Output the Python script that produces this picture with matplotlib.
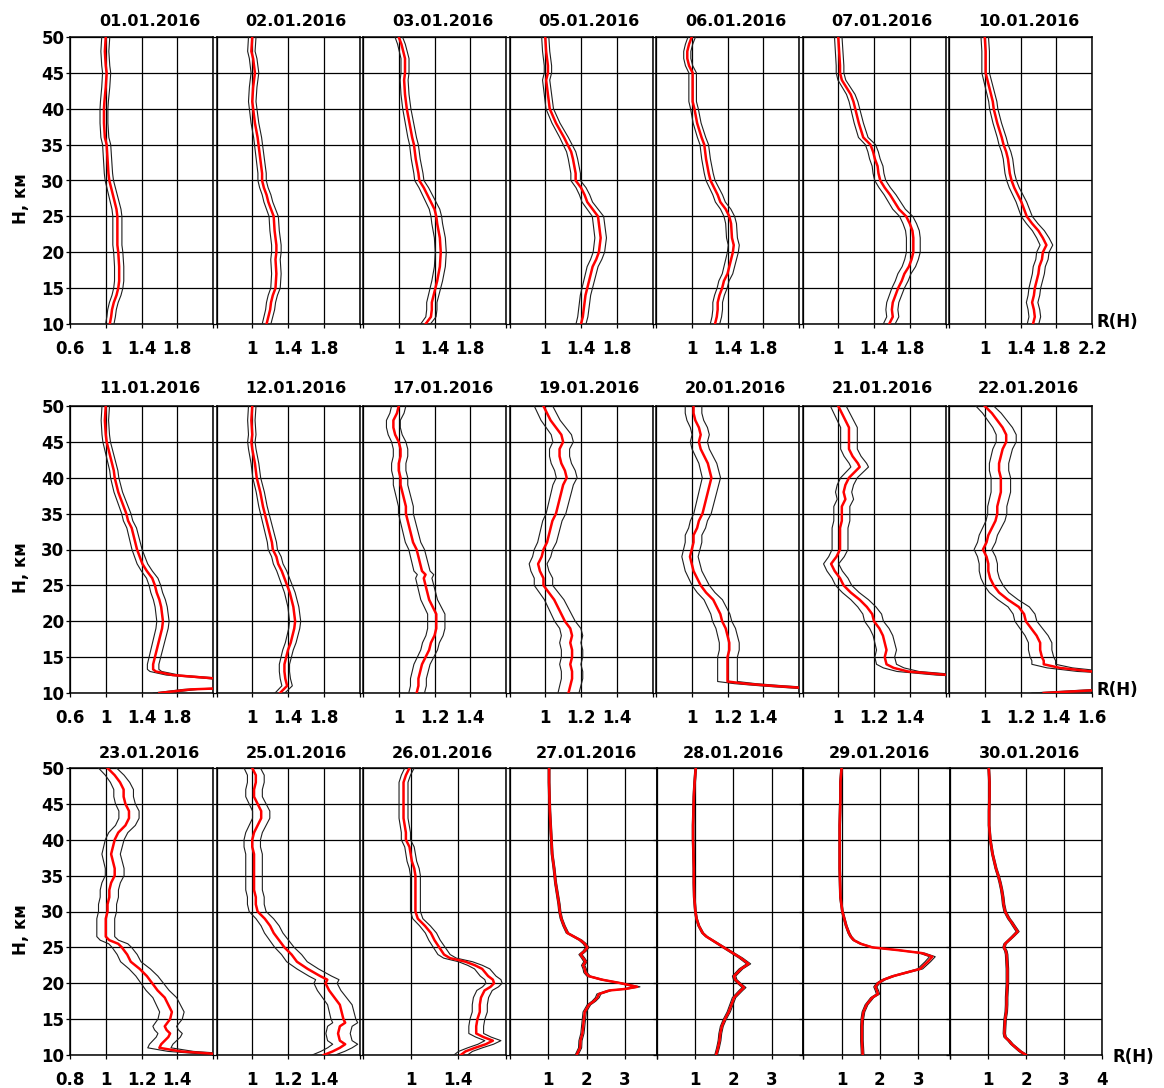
import matplotlib
matplotlib.use("Agg")
import matplotlib.pyplot as plt
from matplotlib.ticker import FixedLocator
import numpy as np

plt.rcParams['font.family'] = ['DejaVu Sans']

# ---------------- data ----------------
DATES = ["01.01.2016", "02.01.2016", "03.01.2016", "05.01.2016", "06.01.2016", "07.01.2016", "10.01.2016",
         "11.01.2016", "12.01.2016", "17.01.2016", "19.01.2016", "20.01.2016", "21.01.2016", "22.01.2016",
         "23.01.2016", "25.01.2016", "26.01.2016", "27.01.2016", "28.01.2016", "29.01.2016", "30.01.2016"]

H_0101 = [50, 48, 46, 45, 43, 41, 40, 38, 36, 35, 33, 31, 30, 29, 28, 27, 26, 25, 23, 21, 20, 18, 16, 15, 14, 13, 12, 11, 10]
R_0101 = [1.00, 0.99, 1.00, 1.01, 1.00, 0.985, 0.98, 0.98, 0.99, 1.01, 1.02, 1.03, 1.04, 1.06, 1.08, 1.10, 1.12, 1.13, 1.13, 1.13, 1.14, 1.15, 1.15, 1.14, 1.12, 1.09, 1.07, 1.06, 1.045]

H_0201 = [50, 48, 47, 45, 43, 41, 40, 38, 36, 35, 33, 31, 30, 29, 28, 27, 26, 25, 23, 21, 20, 19, 17, 15, 14, 13, 12, 11, 10]
R_0201 = [1.00, 0.99, 1.01, 1.03, 1.01, 1.00, 1.01, 1.03, 1.06, 1.07, 1.09, 1.11, 1.11, 1.13, 1.16, 1.18, 1.21, 1.24, 1.25, 1.27, 1.27, 1.26, 1.27, 1.26, 1.23, 1.21, 1.20, 1.18, 1.16]

H_0301 = [50, 49, 47, 45, 44, 42, 40, 38, 36, 35, 33, 31, 30, 29, 28, 27, 26, 25, 24, 22, 20, 18, 16, 15, 14, 13, 12, 11, 10]
R_0301 = [1.00, 1.03, 1.07, 1.07, 1.06, 1.07, 1.09, 1.12, 1.15, 1.17, 1.19, 1.22, 1.23, 1.28, 1.32, 1.36, 1.40, 1.42, 1.43, 1.46, 1.47, 1.46, 1.43, 1.41, 1.39, 1.37, 1.37, 1.36, 1.30]

H_0501 = [50, 48, 46, 45, 44, 42, 40, 38, 36, 35, 34, 33, 31, 30, 29, 28, 27, 26, 25, 24, 23, 22, 21, 20, 19, 18, 16, 15, 14, 12, 11, 10]
R_0501 = [1.00, 1.01, 1.03, 1.03, 1.01, 1.03, 1.05, 1.12, 1.21, 1.25, 1.29, 1.31, 1.34, 1.34, 1.40, 1.44, 1.47, 1.53, 1.59, 1.60, 1.61, 1.62, 1.61, 1.60, 1.57, 1.53, 1.49, 1.47, 1.45, 1.43, 1.42, 1.40]

H_0601 = [50, 49, 48, 47, 46, 45, 43, 41, 40, 38, 36, 35, 33, 31, 30, 29, 28, 27, 26, 25, 24, 22, 21, 20, 19, 18, 17, 16, 15, 14, 13, 12, 11, 10]
R_0601 = [1.00, 0.97, 0.95, 0.95, 0.97, 1.01, 1.01, 1.01, 1.03, 1.06, 1.11, 1.14, 1.16, 1.19, 1.21, 1.25, 1.29, 1.32, 1.38, 1.42, 1.44, 1.45, 1.47, 1.46, 1.44, 1.42, 1.40, 1.36, 1.34, 1.31, 1.29, 1.29, 1.28, 1.26]

H_0701 = [50, 48, 46, 45, 44, 43, 42, 41, 40, 38, 36, 35, 34, 33, 32, 31, 30, 29, 28, 27, 26, 25, 24, 23, 22, 21, 20, 19, 18, 17, 16, 15, 14, 13, 12, 11, 10]
R_0701 = [1.00, 1.01, 1.02, 1.02, 1.04, 1.09, 1.14, 1.17, 1.19, 1.23, 1.28, 1.36, 1.39, 1.41, 1.44, 1.45, 1.47, 1.52, 1.58, 1.63, 1.68, 1.76, 1.80, 1.83, 1.84, 1.84, 1.84, 1.82, 1.79, 1.74, 1.71, 1.67, 1.64, 1.61, 1.60, 1.61, 1.57]

H_1001 = [50, 48, 46, 45, 44, 43, 42, 41, 40, 38, 36, 35, 34, 33, 32, 31, 30, 29, 28, 27, 26, 25, 24, 23, 22, 21, 20, 19, 18, 17, 16, 15, 14, 13, 12, 11, 10]
R_1001 = [1.00, 1.01, 1.01, 1.01, 1.03, 1.05, 1.07, 1.09, 1.10, 1.14, 1.19, 1.21, 1.24, 1.26, 1.27, 1.28, 1.30, 1.33, 1.37, 1.41, 1.44, 1.47, 1.53, 1.60, 1.65, 1.69, 1.65, 1.64, 1.61, 1.60, 1.58, 1.56, 1.55, 1.53, 1.55, 1.56, 1.54]

H_1101 = [50, 48, 46, 45, 44, 42, 41, 40, 38, 36, 35, 34, 33, 32, 31, 30, 29, 28, 27, 26, 25, 24, 23, 22, 21, 20, 19, 18, 17, 16, 15, 14, 13.3, 13, 12.5, 12, 11, 10.5, 10]
R_1101 = [1.00, 0.99, 1.00, 1.01, 1.03, 1.07, 1.09, 1.10, 1.14, 1.20, 1.23, 1.25, 1.29, 1.31, 1.33, 1.35, 1.38, 1.41, 1.46, 1.52, 1.55, 1.57, 1.60, 1.62, 1.63, 1.64, 1.63, 1.61, 1.59, 1.57, 1.55, 1.53, 1.53, 1.56, 1.75, 2.25, 3.0, 1.95, 1.6]

H_1201 = [50, 48, 46, 45, 44, 42, 40, 38, 36, 35, 34, 33, 32, 31, 30, 29, 28, 27, 26, 25, 24, 23, 22, 21, 20, 19, 18, 17, 16, 15, 14, 13, 12, 11, 10.5, 10]
R_1201 = [1.00, 0.99, 1.00, 0.99, 1.00, 1.03, 1.05, 1.09, 1.12, 1.14, 1.16, 1.18, 1.20, 1.22, 1.23, 1.27, 1.29, 1.33, 1.36, 1.39, 1.42, 1.44, 1.46, 1.47, 1.48, 1.47, 1.45, 1.43, 1.40, 1.38, 1.36, 1.36, 1.37, 1.39, 1.35, 1.31]

H_1701 = [50, 49, 48, 47, 46, 45, 44, 43, 42, 41, 40, 39, 38, 37, 36, 35, 34, 33, 32, 31, 30, 29, 28, 27, 26.5, 26, 25, 24, 23, 22, 21, 20, 19, 18, 17, 16, 15, 14, 13, 12, 11, 10]
R_1701 = [1.00, 0.99, 0.97, 0.97, 0.98, 1.00, 1.01, 1.01, 1.00, 1.00, 1.01, 1.01, 1.02, 1.03, 1.04, 1.04, 1.05, 1.06, 1.07, 1.08, 1.10, 1.11, 1.12, 1.13, 1.15, 1.14, 1.15, 1.16, 1.17, 1.19, 1.21, 1.21, 1.21, 1.20, 1.18, 1.17, 1.15, 1.13, 1.12, 1.11, 1.11, 1.10]

H_1901 = [50, 49, 48, 47, 46, 45, 44, 43, 42, 41, 40, 39, 38, 37, 36, 35, 34, 33, 32, 31, 30, 29, 28, 27, 26, 25, 24, 23, 22, 21, 20, 19, 18, 17, 16, 15, 14, 13, 12, 11, 10]
R_1901 = [0.99, 1.01, 1.03, 1.06, 1.09, 1.10, 1.08, 1.08, 1.09, 1.11, 1.12, 1.10, 1.09, 1.08, 1.07, 1.06, 1.04, 1.03, 1.02, 1.01, 0.99, 0.98, 0.96, 0.97, 0.99, 0.99, 1.02, 1.05, 1.07, 1.09, 1.11, 1.14, 1.15, 1.14, 1.15, 1.15, 1.14, 1.15, 1.15, 1.14, 1.13]

H_2001 = [50, 49, 48, 47, 46, 45, 44, 43, 42, 41, 40, 39, 38, 37, 36, 35, 34, 33, 32, 31, 30, 29, 28, 27, 26, 25, 24, 23, 22, 21, 20, 19, 18, 17, 16, 15, 14, 13, 12, 11.6, 11.3, 11, 10.5, 10]
R_2001 = [1.01, 1.01, 1.02, 1.04, 1.05, 1.04, 1.05, 1.07, 1.09, 1.10, 1.11, 1.10, 1.09, 1.08, 1.07, 1.06, 1.04, 1.03, 1.01, 1.01, 1.00, 0.99, 1.00, 1.01, 1.03, 1.05, 1.08, 1.12, 1.14, 1.16, 1.17, 1.19, 1.20, 1.21, 1.21, 1.20, 1.20, 1.20, 1.20, 1.20, 1.30, 1.45, 1.75, 2.20]

H_2101 = [50, 49, 48, 47, 46, 45, 44, 43, 42, 41.5, 41, 40, 39, 38, 37, 36, 35, 34, 33, 32, 31, 30, 29, 28, 27, 26, 25, 24, 23, 22, 21, 20, 19, 18, 17, 16, 15, 14, 13.5, 13, 12.5, 12, 11, 10]
R_2101 = [1.00, 1.02, 1.04, 1.06, 1.06, 1.06, 1.06, 1.08, 1.11, 1.12, 1.10, 1.06, 1.04, 1.03, 1.04, 1.02, 1.02, 1.02, 1.01, 1.01, 1.01, 1.01, 0.99, 0.96, 0.98, 1.01, 1.03, 1.07, 1.12, 1.16, 1.19, 1.20, 1.23, 1.25, 1.26, 1.27, 1.26, 1.27, 1.31, 1.39, 1.62, 2.00, 2.50, 2.50]

H_2201 = [50, 49, 48, 47, 46, 45, 44, 43, 42, 41, 40, 39, 38, 37, 36, 35, 34, 33, 32, 31, 30, 29, 28, 27, 26, 25, 24, 23, 22, 21, 20, 19, 18, 17, 16, 15, 14.5, 14, 13.5, 13, 12.5, 12, 11, 10.5, 10]
R_2201 = [1.00, 1.04, 1.07, 1.10, 1.12, 1.12, 1.10, 1.09, 1.08, 1.08, 1.09, 1.09, 1.09, 1.08, 1.07, 1.07, 1.06, 1.04, 1.02, 1.01, 0.99, 1.01, 1.02, 1.02, 1.03, 1.05, 1.08, 1.13, 1.19, 1.22, 1.23, 1.26, 1.29, 1.31, 1.31, 1.32, 1.33, 1.33, 1.42, 1.60, 2.00, 2.50, 3.00, 1.70, 1.33]

H_2301 = [50, 49, 48, 47, 46, 45, 44, 43, 42, 41, 40, 39, 38, 37, 36, 35, 34, 33, 32, 31, 30, 29, 28, 27, 26.5, 26, 25.5, 25, 24, 23, 22, 21, 20, 19, 18, 17, 16, 15, 14, 13.5, 13, 12.5, 12, 11.5, 11, 10.5, 10]
R_2301 = [1.01, 1.05, 1.08, 1.10, 1.10, 1.11, 1.13, 1.13, 1.11, 1.07, 1.05, 1.04, 1.03, 1.04, 1.05, 1.05, 1.03, 1.02, 1.02, 1.01, 1.01, 1.00, 1.00, 1.00, 1.00, 1.02, 1.07, 1.09, 1.12, 1.14, 1.19, 1.23, 1.26, 1.29, 1.33, 1.35, 1.37, 1.36, 1.33, 1.34, 1.36, 1.35, 1.33, 1.31, 1.30, 1.42, 1.70]

H_2501 = [50, 49, 48, 47, 46, 45, 44, 43, 42, 41, 40, 39, 38, 37, 36, 35, 34, 33, 32, 31, 30, 29, 28, 27, 26, 25, 24, 23, 22, 21, 20.5, 20, 19, 18, 17, 16, 15, 14.5, 14, 13, 12, 11.5, 11, 10.5, 10]
R_2501 = [1.00, 1.02, 1.02, 1.01, 1.01, 1.03, 1.05, 1.05, 1.03, 1.01, 1.00, 1.00, 1.01, 1.01, 1.01, 1.01, 1.01, 1.01, 1.02, 1.02, 1.03, 1.07, 1.10, 1.12, 1.15, 1.18, 1.22, 1.25, 1.31, 1.38, 1.42, 1.41, 1.43, 1.46, 1.49, 1.50, 1.51, 1.52, 1.49, 1.48, 1.49, 1.52, 1.49, 1.45, 1.40]

H_2601 = [50, 49, 48, 47, 46, 45, 44, 43, 42, 41, 40, 39, 38, 37, 36, 35, 34, 33, 32, 31, 30, 29, 28, 27, 26, 25, 24, 23.5, 23, 22.5, 22, 21, 20.5, 20, 19.5, 19, 18, 17, 16, 15, 14, 13, 12.5, 12, 11.5, 11, 10.5, 10]
R_2601 = [0.99, 0.96, 0.94, 0.94, 0.94, 0.94, 0.94, 0.94, 0.95, 0.96, 0.96, 0.99, 1.00, 1.01, 1.03, 1.04, 1.04, 1.04, 1.04, 1.04, 1.04, 1.06, 1.12, 1.17, 1.20, 1.24, 1.28, 1.33, 1.46, 1.54, 1.60, 1.65, 1.69, 1.70, 1.67, 1.62, 1.59, 1.58, 1.58, 1.56, 1.55, 1.55, 1.61, 1.69, 1.63, 1.54, 1.46, 1.42]

H_2701 = [50, 48, 46, 44, 42, 40, 38, 36, 35, 34, 33, 32, 31, 30, 29, 28, 27, 26.5, 26, 25.5, 25, 24.5, 24, 23.5, 23, 22.5, 22, 21.5, 21, 20.5, 20, 19.5, 19.2, 19, 18.5, 18, 17.5, 17, 16, 15, 14, 13, 12, 11, 10]
R_2701 = [1.02, 1.02, 1.03, 1.04, 1.06, 1.08, 1.10, 1.15, 1.17, 1.19, 1.22, 1.25, 1.28, 1.30, 1.34, 1.41, 1.50, 1.67, 1.84, 1.95, 2.02, 1.95, 1.84, 1.91, 1.97, 1.91, 1.95, 1.97, 2.05, 2.40, 2.90, 3.32, 3.00, 2.60, 2.32, 2.28, 2.19, 2.06, 1.95, 1.93, 1.91, 1.89, 1.84, 1.83, 1.74]

H_2801 = [50, 48, 46, 44, 42, 40, 38, 36, 34, 32, 30, 29, 28, 27, 26.5, 26, 25, 24, 23.5, 22.7, 22, 21, 20.5, 20, 19.4, 19, 18, 17, 16, 15, 14, 13, 12, 11, 10]
R_2801 = [1.02, 0.99, 0.97, 0.96, 0.95, 0.95, 0.96, 0.97, 0.97, 0.98, 1.01, 1.04, 1.10, 1.20, 1.30, 1.45, 1.75, 2.05, 2.20, 2.40, 2.20, 2.02, 2.05, 2.15, 2.28, 2.20, 2.02, 1.95, 1.88, 1.78, 1.70, 1.66, 1.64, 1.60, 1.55]

H_2901 = [50, 48, 46, 44, 42, 40, 38, 36, 34, 32, 30, 29, 28, 27, 26.5, 26, 25.5, 25, 24.6, 24.2, 23.7, 23, 22, 21.5, 21, 20.5, 20, 19.5, 19, 18.5, 18, 17, 16, 15, 14, 12, 10]
R_2901 = [1.00, 0.97, 0.97, 0.96, 0.95, 0.95, 0.95, 0.95, 0.96, 0.97, 1.02, 1.07, 1.12, 1.19, 1.24, 1.32, 1.50, 1.80, 2.50, 3.10, 3.37, 3.25, 3.05, 2.70, 2.35, 2.10, 1.95, 1.88, 1.92, 1.95, 1.80, 1.65, 1.57, 1.54, 1.53, 1.53, 1.55]

H_3001 = [50, 48, 46, 44, 42, 40, 38, 36, 35, 34, 33, 32, 31, 30, 29, 28.5, 28, 27.2, 26.5, 26, 25.5, 25, 24.5, 24, 23, 22, 21, 20, 19, 18, 17, 16, 15, 14, 13, 12.5, 12, 11.5, 11, 10.5, 10]
R_3001 = [1.02, 1.04, 1.04, 1.03, 1.03, 1.06, 1.12, 1.21, 1.27, 1.32, 1.36, 1.39, 1.41, 1.45, 1.55, 1.62, 1.68, 1.78, 1.65, 1.55, 1.45, 1.42, 1.47, 1.49, 1.50, 1.51, 1.51, 1.51, 1.50, 1.49, 1.49, 1.48, 1.45, 1.44, 1.43, 1.45, 1.55, 1.63, 1.74, 1.85, 2.00]

# relative half-width of the uncertainty envelope, per panel
ENV_REL = [0.045, 0.042, 0.042, 0.040, 0.042, 0.042, 0.042,
           0.042, 0.042, 0.040, 0.052, 0.046, 0.044, 0.050,
           0.050, 0.046, 0.040, 0.022, 0.022, 0.022, 0.022]

HEIGHTS = [H_0101, H_0201, H_0301, H_0501, H_0601, H_0701, H_1001,
           H_1101, H_1201, H_1701, H_1901, H_2001, H_2101, H_2201,
           H_2301, H_2501, H_2601, H_2701, H_2801, H_2901, H_3001]
RATIOS = [R_0101, R_0201, R_0301, R_0501, R_0601, R_0701, R_1001,
          R_1101, R_1201, R_1701, R_1901, R_2001, R_2101, R_2201,
          R_2301, R_2501, R_2601, R_2701, R_2801, R_2901, R_3001]

Y_TICKS = [10, 15, 20, 25, 30, 35, 40, 45, 50]

# ---------------- axis configuration ----------------
WIDE = (0.6, 2.2, [0.6, 1, 1.4, 1.8, 2.2])
NARROW = (0.8, 1.6, [0.8, 1, 1.2, 1.4, 1.6])
MID = (0.6, 1.8, [0.6, 1, 1.4, 1.8])
BIG = (0, 3.83, [0, 1, 2, 3, 3.83])
BIG_LAST = (0, 4, [0, 1, 2, 3, 4])

XCFG = [
    (WIDE, ["0.6", "1", "1.4", "1.8", ""]),
    (WIDE, ["", "1", "1.4", "1.8", ""]),
    (WIDE, ["", "1", "1.4", "1.8", ""]),
    (WIDE, ["", "1", "1.4", "1.8", ""]),
    (WIDE, ["", "1", "1.4", "1.8", ""]),
    (WIDE, ["", "1", "1.4", "1.8", ""]),
    (WIDE, ["", "1", "1.4", "1.8", "2.2"]),
    (WIDE, ["0.6", "1", "1.4", "1.8", ""]),
    (WIDE, ["", "1", "1.4", "1.8", ""]),
    (NARROW, ["", "1", "1.2", "1.4", ""]),
    (NARROW, ["", "1", "1.2", "1.4", ""]),
    (NARROW, ["", "1", "1.2", "1.4", ""]),
    (NARROW, ["", "1", "1.2", "1.4", ""]),
    (NARROW, ["", "1", "1.2", "1.4", "1.6"]),
    (NARROW, ["0.8", "1", "1.2", "1.4", ""]),
    (NARROW, ["", "1", "1.2", "1.4", ""]),
    (MID, ["", "1", "1.4", ""]),
    (BIG, ["", "1", "2", "3", ""]),
    (BIG, ["", "1", "2", "3", ""]),
    (BIG, ["", "1", "2", "3", ""]),
    (BIG_LAST, ["", "1", "2", "3", "4"]),
]

W, H = 1164, 1088
fig = plt.figure(figsize=(W / 100, H / 100), dpi=100)

ROW_TOP = [37, 406, 768]
ROW_BOT = [324, 693, 1055]
TITLE_Y = [21, 388, 753]


def panel_box(row, col):
    if row == 2 and col >= 3:
        lefts = [510, 656.7, 803.3, 950]
        widths = [146.7, 146.7, 146.7, 152]
        return lefts[col - 3], widths[col - 3], 3
    return 70 + 146.5 * col, 143, 8


FS = 12
for k in range(21):
    row, col = divmod(k, 7)
    left, width, toff = panel_box(row, col)
    top, bot = ROW_TOP[row], ROW_BOT[row]
    ax = fig.add_axes([left / W, 1 - bot / H, width / W, (bot - top) / H])
    (xmin, xmax, ticks), labels = XCFG[k]
    ax.set_xlim(xmin, xmax)
    ax.set_ylim(10, 50)
    ax.xaxis.set_major_locator(FixedLocator(ticks))
    ax.set_xticklabels(labels, fontsize=FS, fontweight='bold')
    ax.set_yticks(Y_TICKS)
    if col == 0:
        ax.set_yticklabels([str(v) for v in Y_TICKS], fontsize=FS, fontweight='bold')
    else:
        ax.set_yticklabels([])
    ax.grid(True, color='black', lw=0.9)
    ax.set_axisbelow(True)
    ax.tick_params(direction='out', length=3, width=0.9, color='black')
    ax.tick_params(axis='x', pad=8.5)
    ax.tick_params(axis='y', pad=1)
    for s in ax.spines.values():
        s.set_linewidth(1.1)
        s.set_color('black')

    h = np.array(HEIGHTS[k], dtype=float)
    r = np.array(RATIOS[k], dtype=float)
    e = ENV_REL[k]
    ax.plot(r * (1 - e), h, color='#1e1e1e', lw=0.8, zorder=3)
    ax.plot(r * (1 + e), h, color='#1e1e1e', lw=0.8, zorder=3)
    ax.plot(r, h, color='#ff0000', lw=1.8, zorder=4)

    fig.text((left + width / 2 + toff) / W, 1 - TITLE_Y[row] / H, DATES[k],
             ha='center', va='center', fontsize=11.5, fontweight='bold')

for row in range(3):
    mid = (ROW_TOP[row] + ROW_BOT[row]) / 2 + 18
    fig.text(21 / W, 1 - mid / H, 'H, км', rotation=90, ha='center', va='center',
             fontsize=FS, fontweight='bold')

RH_POS = [(1097, 322), (1097, 690), (1113, 1057)]
for x, y in RH_POS:
    fig.text(x / W, 1 - y / H, 'R(H)', ha='left', va='center', fontsize=FS, fontweight='bold')

fig.savefig('out.png', dpi=100)
